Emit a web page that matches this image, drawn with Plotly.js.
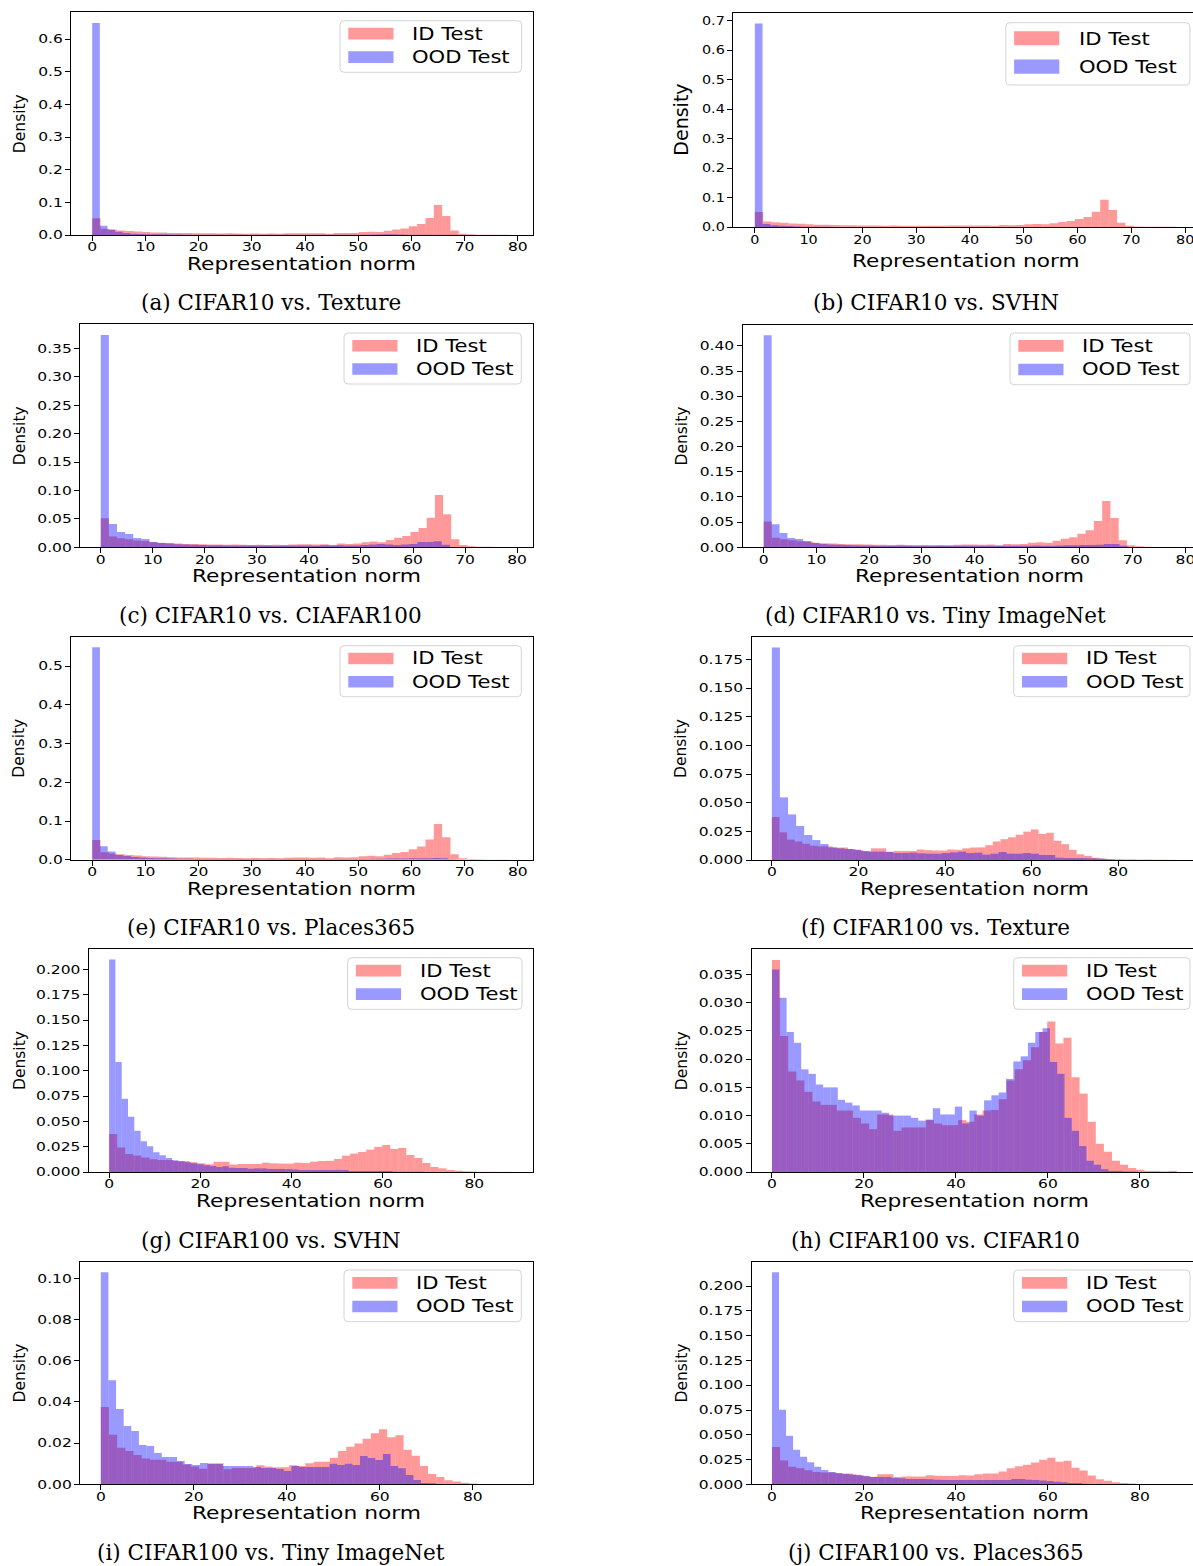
<!DOCTYPE html>
<html>
<head>
<meta charset="utf-8">
<script src="https://cdn.plot.ly/plotly-3.0.1.min.js"></script>
<style>
html,body{margin:0;padding:0;overflow:hidden;background:#fff;}
#chart{width:1200px;height:1566px;}
</style>
</head>
<body>
<div id="chart"></div>
<script>
// ---------------- DATA (densities per histogram bin, 50 bins each) ----------------
// In-distribution test sets
const cifar10IdStart = 0, cifar10IdWidth = 1.566;
const cifar10IdDensity = [
 0.051, 0.019, 0.016, 0.014, 0.012, 0.011, 0.009, 0.008, 0.0075, 0.0065,
 0.006, 0.006, 0.0055, 0.005, 0.005, 0.0045, 0.005, 0.0045, 0.004, 0.0045,
 0.004, 0.0045, 0.004, 0.005, 0.0055, 0.0055, 0.005, 0.0055, 0.004, 0.0065,
 0.006, 0.0065, 0.009, 0.01, 0.009, 0.013, 0.017, 0.02, 0.027, 0.034,
 0.052, 0.092, 0.058, 0.014, 0.004, 0.002, 0.001, 0.0008, 0.0005, 0.0005];

const cifar100IdStart = 0, cifar100IdWidth = 1.76;
const cifar100IdDensity = [
 0.0376, 0.0241, 0.0178, 0.0162, 0.0142, 0.0125, 0.0119, 0.0119, 0.0109, 0.0109,
 0.0096, 0.0086, 0.0076, 0.0102, 0.0102, 0.0073, 0.0079, 0.0079, 0.0079, 0.0092,
 0.0086, 0.0083, 0.0083, 0.0092, 0.0089, 0.0102, 0.0109, 0.011, 0.0129, 0.0162,
 0.0182, 0.0198, 0.0221, 0.0248, 0.0267, 0.0228, 0.0238, 0.0168, 0.0139, 0.0089,
 0.005, 0.0036, 0.002, 0.0013, 0.0007, 0.0004, 0.0002, 0.0002, 0.0001, 0.0002];

// OOD test sets (CIFAR10 model)
const oodTextureC10Width = 1.43;
const oodTextureC10 = [
 0.65, 0.028, 0.017, 0.010, 0.006, 0.004, 0.003, 0.002, 0.002, 0.002,
 0.0015, 0.0012, 0.001, 0.001, 0.001, 0.001, 0.001, 0.0008, 0.0008, 0.0008,
 0.0008, 0.0008, 0.0008, 0.0008, 0.0008, 0.0008, 0.0008, 0.0008, 0.0008, 0.0008,
 0.0008, 0.0008, 0.0008, 0.0008, 0.0008, 0.0008, 0.001, 0.0015, 0.002, 0.002,
 0.0015, 0.001, 0.001, 0.001, 0.001, 0.0008, 0.0005, 0.0005, 0.0003, 0.0003];

const oodSvhnC10Width = 1.44;
const oodSvhnC10 = [
 0.69, 0.010, 0.006, 0.004, 0.003, 0.002, 0.0012, 0.0008, 0.0006, 0.0005,
 0.0004, 0.0003, 0.0003, 0.0002, 0.0002, 0.0002, 0.0002, 0.0001, 0.0001, 0.0001,
 0.0001, 0.0001, 0.0001, 0.0001, 0.0001, 0.0001, 0.0001, 0.0001, 0.0001, 0.0001,
 0.0001, 0.0001, 0.0001, 0.0001, 0.0001, 0.0001, 0.0001, 0.0001, 0.0001, 0.0001,
 0.0001, 0.0001, 0.0001, 0.0001, 0.0001, 0.0001, 0.0001, 0.0001, 0.0001, 0.0001];

const oodCifar100C10Width = 1.56;
const oodCifar100C10 = [
 0.374, 0.041, 0.027, 0.0235, 0.0165, 0.0147, 0.0094, 0.0076, 0.0065, 0.0055,
 0.005, 0.0045, 0.004, 0.0035, 0.0035, 0.003, 0.003, 0.003, 0.003, 0.0032,
 0.003, 0.0028, 0.003, 0.0032, 0.003, 0.003, 0.0028, 0.0035, 0.003, 0.0035,
 0.003, 0.003, 0.004, 0.005, 0.006, 0.005, 0.004, 0.005, 0.006, 0.0095,
 0.0095, 0.0106, 0.0047, 0.0005, 0.0002, 0.0001, 0.0001, 0.0001, 0.0001, 0.0001];

const oodTinyC10Width = 1.5;
const oodTinyC10 = [
 0.421, 0.046, 0.0285, 0.0185, 0.0165, 0.0126, 0.0086, 0.0066, 0.0055, 0.005,
 0.0045, 0.004, 0.0035, 0.0035, 0.003, 0.003, 0.003, 0.0035, 0.003, 0.003,
 0.003, 0.003, 0.003, 0.003, 0.003, 0.003, 0.003, 0.003, 0.003, 0.003,
 0.003, 0.003, 0.003, 0.003, 0.0035, 0.003, 0.003, 0.0035, 0.004, 0.004,
 0.0045, 0.0045, 0.005, 0.0066, 0.0066, 0.003, 0.0005, 0.0002, 0.0001, 0.0001];

const oodPlacesC10Width = 1.455;
const oodPlacesC10 = [
 0.549, 0.035, 0.021, 0.012, 0.0095, 0.007, 0.0055, 0.0045, 0.004, 0.0035,
 0.003, 0.0025, 0.0025, 0.002, 0.002, 0.002, 0.002, 0.002, 0.002, 0.002,
 0.002, 0.002, 0.002, 0.002, 0.002, 0.002, 0.002, 0.002, 0.002, 0.002,
 0.002, 0.002, 0.002, 0.002, 0.002, 0.002, 0.0025, 0.0025, 0.003, 0.003,
 0.003, 0.004, 0.004, 0.004, 0.0045, 0.004, 0.001, 0.0003, 0.0001, 0.0001];

// OOD test sets (CIFAR100 model)
const oodTextureC100Width = 1.87;
const oodTextureC100 = [
 0.1855, 0.0547, 0.0398, 0.0297, 0.0218, 0.0174, 0.014, 0.011, 0.0102, 0.0096,
 0.009, 0.0078, 0.0073, 0.0073, 0.007, 0.0061, 0.0061, 0.0064, 0.0058, 0.0055,
 0.0055, 0.0061, 0.0067, 0.0073, 0.0061, 0.0064, 0.0047, 0.0055, 0.007, 0.0055,
 0.0055, 0.0061, 0.0055, 0.0044, 0.0044, 0.002, 0.0017, 0.0017, 0.0017, 0.0015,
 0.0012, 0.0006, 0.0003, 0.0003, 0.0003, 0.0002, 0.0002, 0.0002, 0.0002, 0.0001];

const oodSvhnC100Width = 1.38;
const oodSvhnC100 = [
 0.2096, 0.1086, 0.0723, 0.0545, 0.0406, 0.0304, 0.0254, 0.0195, 0.0165, 0.0139,
 0.0116, 0.0106, 0.0096, 0.0086, 0.0076, 0.0066, 0.0059, 0.005, 0.0056, 0.0043,
 0.004, 0.004, 0.0033, 0.0036, 0.0036, 0.003, 0.003, 0.003, 0.0028, 0.0025,
 0.002, 0.002, 0.002, 0.002, 0.002, 0.002, 0.002, 0.002, 0.001, 0.001,
 0.001, 0.001, 0.001, 0.001, 0.001, 0.0003, 0.0003, 0.0003, 0.0003, 0.0003];

const oodCifar10C100Width = 1.59;
const oodCifar10C100 = [
 0.0359, 0.0309, 0.0248, 0.0229, 0.0182, 0.0174, 0.0155, 0.015, 0.015, 0.0128,
 0.0123, 0.0118, 0.0109, 0.0109, 0.0109, 0.0105, 0.01, 0.01, 0.01, 0.0096,
 0.0091, 0.0093, 0.0113, 0.0102, 0.0102, 0.0116, 0.0086, 0.0109, 0.01, 0.0127,
 0.0136, 0.0141, 0.0165, 0.0196, 0.0205, 0.0229, 0.0248, 0.0255, 0.0195, 0.0174,
 0.0096, 0.0073, 0.0046, 0.002, 0.0013, 0.0005, 0.0002, 0.0002, 0.0001, 0.0001];

const oodTinyC100Width = 1.64;
const oodTinyC100 = [
 0.103, 0.0506, 0.0366, 0.0283, 0.0259, 0.0191, 0.0186, 0.0152, 0.0133, 0.0133,
 0.0113, 0.0099, 0.0094, 0.0104, 0.0099, 0.0099, 0.0089, 0.0089, 0.0089, 0.0089,
 0.0084, 0.0079, 0.0079, 0.0074, 0.0065, 0.0089, 0.0084, 0.0084, 0.0084, 0.0084,
 0.01, 0.0094, 0.01, 0.0094, 0.0138, 0.0128, 0.0118, 0.0147, 0.0089, 0.0078,
 0.0045, 0.0021, 0.0006, 0.0005, 0.0002, 0.0001, 0.0001, 0.0001, 0.0001, 0.0001];

const oodPlacesC100Width = 1.53;
const oodPlacesC100 = [
 0.214, 0.0753, 0.049, 0.0348, 0.0277, 0.0223, 0.0176, 0.0145, 0.0125, 0.0115,
 0.0105, 0.0098, 0.0091, 0.0081, 0.0074, 0.0074, 0.0074, 0.0064, 0.0061, 0.0054,
 0.0054, 0.0054, 0.0051, 0.0047, 0.0044, 0.0044, 0.0044, 0.0044, 0.0044, 0.0044,
 0.0044, 0.0044, 0.0044, 0.0044, 0.0054, 0.0054, 0.0047, 0.0044, 0.0038, 0.0034,
 0.0027, 0.002, 0.0014, 0.0014, 0.0005, 0.0001, 0.0001, 0.0001, 0.0001, 0.0001];

const captions = [
 '(a) CIFAR10 vs. Texture', '(b) CIFAR10 vs. SVHN',
 '(c) CIFAR10 vs. CIAFAR100', '(d) CIFAR10 vs. Tiny ImageNet',
 '(e) CIFAR10 vs. Places365', '(f) CIFAR100 vs. Texture',
 '(g) CIFAR100 vs. SVHN', '(h) CIFAR100 vs. CIFAR10',
 '(i) CIFAR100 vs. Tiny ImageNet', '(j) CIFAR100 vs. Places365'];
const seriesNames = ['ID Test', 'OOD Test'];
const xTitle = 'Representation norm';
const yTitle = 'Density';

// ---------------- LAYOUT CONFIG ----------------
const W = 1200, H = 1566;
const C10 = {start: cifar10IdStart, width: cifar10IdWidth, vals: cifar10IdDensity};
const C100 = {start: cifar100IdStart, width: cifar100IdWidth, vals: cifar100IdDensity};
const panels = [
 {id: C10, ood: oodTextureC10, oodW: oodTextureC10Width, box: [71.2, 12.3, 532.7, 235], xr: [-3.95, 82.8], xd: 10, yd: 0.1, yf: '.1f', leg: [340, 20.7, 521.7, 72.3], titleY: 264, capY: 303},
 {id: C10, ood: oodSvhnC10, oodW: oodSvhnC10Width, box: [733.3, 13.3, 1197, 227], xr: [-4.0, 82.2], xd: 10, yd: 0.1, yf: '.1f', leg: [1005.8, 22.7, 1189.9, 85], titleY: 261, capY: 303, big: true},
 {id: C10, ood: oodCifar100C10, oodW: oodCifar100C10Width, box: [80.2, 324.3, 532.7, 547.3], xr: [-3.95, 83.0], xd: 10, yd: 0.05, yf: '.2f', leg: [344, 333, 521.3, 384], titleY: 576, capY: 615},
 {id: C10, ood: oodTinyC10, oodW: oodTinyC10Width, box: [742.6, 324.7, 1197, 547.3], xr: [-4.0, 82.2], xd: 10, yd: 0.05, yf: '.2f', leg: [1010, 333, 1190, 384.7], titleY: 576, capY: 615},
 {id: C10, ood: oodPlacesC10, oodW: oodPlacesC10Width, box: [71.2, 636.7, 532.7, 859.7], xr: [-3.95, 82.8], xd: 10, yd: 0.1, yf: '.1f', leg: [340, 645.7, 521.3, 696.7], titleY: 888.5, capY: 927},
 {id: C100, ood: oodTextureC100, oodW: oodTextureC100Width, box: [751.5, 637, 1197, 860], xr: [-4.7, 98.2], xd: 20, yd: 0.025, yf: '.3f', leg: [1013.7, 645.7, 1190, 696.7], titleY: 888.5, capY: 927},
 {id: C100, ood: oodSvhnC100, oodW: oodSvhnC100Width, box: [88.8, 949, 532.7, 1172], xr: [-4.45, 92.8], xd: 20, yd: 0.025, yf: '.3f', leg: [347.6, 957.7, 522, 1009.3], titleY: 1201, capY: 1240},
 {id: C100, ood: oodCifar10C100, oodW: oodCifar10C100Width, box: [751.5, 949.3, 1197, 1172], xr: [-4.45, 92.4], xd: 20, yd: 0.005, yf: '.3f', leg: [1013.7, 957.7, 1190, 1009.3], titleY: 1201, capY: 1240},
 {id: C100, ood: oodTinyC100, oodW: oodTinyC100Width, box: [80.2, 1261.7, 532.7, 1484.3], xr: [-4.43, 92.9], xd: 20, yd: 0.02, yf: '.2f', leg: [344, 1270, 521.3, 1321.7], titleY: 1513, capY: 1552},
 {id: C100, ood: oodPlacesC100, oodW: oodPlacesC100Width, box: [751.5, 1261.7, 1197, 1484.3], xr: [-4.45, 92.4], xd: 20, yd: 0.025, yf: '.3f', leg: [1013.7, 1270, 1190, 1321.7], titleY: 1513, capY: 1552}
];

const RED = 'rgba(255,0,0,0.4)', BLUE = 'rgba(0,0,255,0.4)';
const RED_PATCH = '#ff9999', BLUE_PATCH = '#9999ff';
const SANS = 'DejaVu Sans, Verdana, sans-serif';
const SERIF = 'DejaVu Serif, Liberation Serif, serif';

const X = p => p / W;
const Y = p => 1 - p / H;
function centers(start, width, n) {
  const out = [];
  for (let i = 0; i < n; i++) out.push(start + (i + 0.5) * width);
  return out;
}
function roundRect(l, t, r, b, rad) {
  return 'M' + X(l + rad) + ',' + Y(t) + ' L' + X(r - rad) + ',' + Y(t) +
    ' Q' + X(r) + ',' + Y(t) + ' ' + X(r) + ',' + Y(t + rad) +
    ' L' + X(r) + ',' + Y(b - rad) + ' Q' + X(r) + ',' + Y(b) + ' ' + X(r - rad) + ',' + Y(b) +
    ' L' + X(l + rad) + ',' + Y(b) + ' Q' + X(l) + ',' + Y(b) + ' ' + X(l) + ',' + Y(b - rad) +
    ' L' + X(l) + ',' + Y(t + rad) + ' Q' + X(l) + ',' + Y(t) + ' ' + X(l + rad) + ',' + Y(t) + ' Z';
}

const traces = [];
const layout = {
  width: W, height: H, autosize: false,
  margin: {l: 0, r: 0, t: 0, b: 0, pad: 0},
  paper_bgcolor: '#fff', plot_bgcolor: '#fff',
  barmode: 'overlay', showlegend: false,
  shapes: [], annotations: []
};
// horizontal widening of the sans-serif texts (the reference figure is stretched sideways)
const annStretch = [];
function addAnn(a, stretch) {
  if (stretch) annStretch.push([layout.annotations.length, stretch]);
  layout.annotations.push(Object.assign({xref: 'paper', yref: 'paper', showarrow: false}, a));
}

panels.forEach((p, k) => {
  const n = k + 1;
  const xa = 'x' + n, ya = 'y' + n;
  const [l, t, r, b] = p.box;
  const idX = centers(p.id.start, p.id.width, p.id.vals.length);
  const oodX = centers(0, p.oodW, p.ood.length);
  traces.push({type: 'bar', name: seriesNames[0], x: idX, y: p.id.vals, width: p.id.width,
    xaxis: xa, yaxis: ya, marker: {color: RED, line: {width: 0}}, hoverinfo: 'skip', showlegend: false});
  traces.push({type: 'bar', name: seriesNames[1], x: oodX, y: p.ood, width: p.oodW,
    xaxis: xa, yaxis: ya, marker: {color: BLUE, line: {width: 0}}, hoverinfo: 'skip', showlegend: false});

  const ymax = 1.05 * Math.max(Math.max(...p.id.vals), Math.max(...p.ood));
  const tickSize = p.big ? 12.5 : 12;
  const common = {
    ticks: 'outside', ticklen: 5, tickwidth: 1, tickcolor: '#000',
    showline: true, linecolor: '#000', linewidth: 1, mirror: true,
    showgrid: false, zeroline: false, fixedrange: true,
    tickfont: {family: SANS, size: tickSize, color: '#000'}
  };
  layout['xaxis' + n] = Object.assign({}, common, {
    domain: [X(l), X(r)], anchor: ya, range: p.xr,
    tickmode: 'linear', tick0: 0, dtick: p.xd,
    ticklabelstandoff: -4
  });
  layout['yaxis' + n] = Object.assign({}, common, {
    domain: [Y(b), Y(t)], anchor: xa, range: [0, ymax],
    tickmode: 'linear', tick0: 0, dtick: p.yd, tickformat: p.yf
  });

  const left = l < 600;
  // axis titles
  addAnn({x: X((l + r) / 2), y: Y(p.titleY), xanchor: 'center', yanchor: 'middle', text: xTitle,
    font: {family: SANS, size: p.big ? 18 : 17, color: '#000'}}, p.big ? 1.2 : 1.28);
  addAnn({x: X(left ? 19.5 : 681.5), y: Y((t + b) / 2), xanchor: 'center', yanchor: 'middle',
    text: yTitle, textangle: -90, font: {family: SANS, size: p.big ? 19 : 15.5, color: '#000'}});
  // caption
  addAnn({x: X(left ? 270.5 : 935.6), y: Y(p.capY), xanchor: 'center', yanchor: 'middle',
    text: captions[k], font: {family: SERIF, size: 21.5, color: '#000'}});

  // legend
  const [ll, lt, lr, lb] = p.leg;
  const lh = lb - lt;
  layout.shapes.push({type: 'path', xref: 'paper', yref: 'paper', path: roundRect(ll, lt, lr, lb, 4),
    fillcolor: 'rgba(255,255,255,0.8)', line: {color: '#d4d4d4', width: 1}, layer: 'above'});
  const rows = [lt + 0.25 * lh, lt + 0.705 * lh];
  const ph = 0.225 * lh;
  const patchColors = [RED_PATCH, BLUE_PATCH];
  rows.forEach((cy, j) => {
    layout.shapes.push({type: 'rect', xref: 'paper', yref: 'paper',
      x0: X(ll + 8.3), x1: X(ll + 53.5), y0: Y(cy - ph / 2), y1: Y(cy + ph / 2),
      fillcolor: patchColors[j], line: {width: 0}, layer: 'above'});
    addAnn({x: X(ll + (p.big ? 71 : 70)), y: Y(cy), xanchor: 'left', yanchor: 'middle', align: 'left',
      text: seriesNames[j], font: {family: SANS, size: p.big ? 18.5 : 17, color: '#000'}},
      p.big ? 1.14 : 1.24);
  });
});

function widen(el, s) {
  const len = el.getComputedTextLength();
  if (len > 0) {
    el.setAttribute('textLength', (len * s).toFixed(2));
    el.setAttribute('lengthAdjust', 'spacingAndGlyphs');
  }
}

Plotly.newPlot('chart', traces, layout, {displayModeBar: false, staticPlot: true}).then(gd => {
  panels.forEach((p, k) => {
    const n = k + 1;
    const s = p.big ? 1.15 : 1.29;
    const xid = n === 1 ? 'x' : 'x' + n;
    const yid = n === 1 ? 'y' : 'y' + n;
    gd.querySelectorAll('g.' + xid + 'tick text, g.' + yid + 'tick text').forEach(el => widen(el, s));
  });
  annStretch.forEach(([i, s]) => {
    const el = gd.querySelector('g.annotation[data-index="' + i + '"] text.annotation-text');
    if (el) widen(el, s);
  });
});
</script>
</body>
</html>
